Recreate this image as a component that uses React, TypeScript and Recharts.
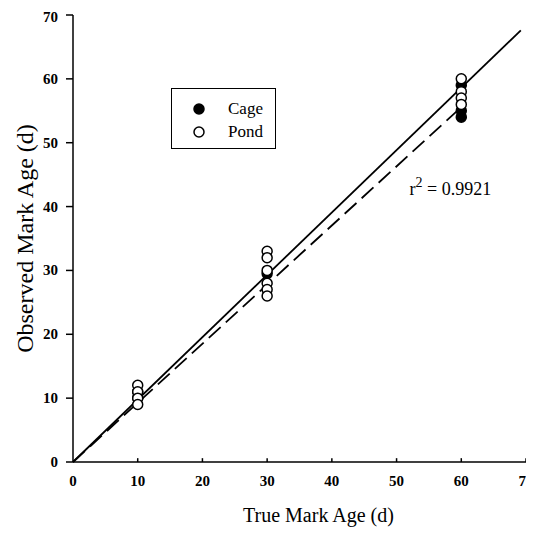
import React from "react";
import { ScatterChart, Scatter, XAxis, YAxis, ReferenceLine, ReferenceDot } from "recharts";

const trueAgeTicks = [0, 10, 20, 30, 40, 50, 60, 70];
const observedTicks = [0, 10, 20, 30, 40, 50, 60, 70];

const cageTrue = [10, 10, 30, 60, 60, 60];
const cageObserved = [11, 10, 29.5, 59, 55, 54];

const pondTrue = [10, 10, 10, 10, 30, 30, 30, 30, 30, 30, 60, 60, 60, 60];
const pondObserved = [12, 11, 10, 9, 33, 32, 30, 28, 27, 26, 60, 58, 57, 56];

const solidLine = [
  { x: 0, y: 0 },
  { x: 69.2, y: 67.6 },
];
const dashedLine = [
  { x: 0, y: 0 },
  { x: 59.5, y: 55.1 },
];

const rSquared = "0.9921";
const seriesNames = ["Cage", "Pond"];

const cageData = cageTrue.map((x, i) => ({ x, y: cageObserved[i] }));
const pondData = pondTrue.map((x, i) => ({ x, y: pondObserved[i] }));

const FONT = "'Liberation Serif', 'Times New Roman', serif";

const XTick = (props: any) => {
  const { x, y, payload } = props;
  return (
    <text x={x} y={y + 18} textAnchor="middle" fontFamily={FONT} fontSize={15} fontWeight={700} fill="#000">
      {payload.value}
    </text>
  );
};

const YTick = (props: any) => {
  const { x, y, payload } = props;
  return (
    <text x={x} y={y + 5} textAnchor="end" fontFamily={FONT} fontSize={15} fontWeight={700} fill="#000">
      {payload.value}
    </text>
  );
};

const LegendBox = () => (
  <div
    style={{
      position: "absolute",
      left: 163,
      top: 80,
      border: "1.5px solid #000",
      width: 105,
      height: 61,
      boxSizing: "border-box",
      fontFamily: FONT,
      background: "#fff",
    }}
  >
    <svg width={102} height={58}>
      <circle cx={27} cy={20} r={5} fill="#000" stroke="#000" strokeWidth={1.5} />
      <text x={56} y={25} fontSize={17} fontFamily={FONT} fill="#000">{seriesNames[0]}</text>
      <circle cx={27} cy={43} r={5} fill="#fff" stroke="#000" strokeWidth={1.5} />
      <text x={56} y={48} fontSize={17} fontFamily={FONT} fill="#000">{seriesNames[1]}</text>
    </svg>
  </div>
);

const RLabel = (props: any) => {
  const { viewBox } = props;
  const x = viewBox.x;
  const y = viewBox.y;
  return (
    <text x={x} y={y} fontFamily={FONT} fontSize={18} fill="#000">
      <tspan>r</tspan>
      <tspan dy={-8} fontSize={14}>2</tspan>
      <tspan dy={8}>{" = " + rSquared}</tspan>
    </text>
  );
};

export default function App() {
  return (
    <div style={{ width: 526, height: 527, position: "relative" }}>
      <ScatterChart width={526} height={527} margin={{ top: 7, right: 8, bottom: 13, left: 5 }}>
        <XAxis
          type="number"
          dataKey="x"
          domain={[0, 70]}
          ticks={trueAgeTicks}
          allowDataOverflow
          height={60}
          axisLine={{ stroke: "#000", strokeWidth: 1.5 }}
          tickLine={false}
          tickMargin={0}
          tick={<XTick />}
          label={{
            value: "True Mark Age (d)",
            position: "insideBottom",
            offset: 0,
            style: { fontFamily: FONT, fontSize: 20, fill: "#000", textAnchor: "middle" },
            dx: 19,
          }}
        />
        <YAxis
          type="number"
          dataKey="y"
          domain={[0, 70]}
          ticks={observedTicks}
          allowDataOverflow
          width={60}
          axisLine={{ stroke: "#000", strokeWidth: 1.5 }}
          tickLine={{ stroke: "#000", strokeWidth: 1.5 }}
          tickSize={7}
          tickMargin={8}
          tick={<YTick />}
          label={{
            value: "Observed Mark Age (d)",
            angle: -90,
            position: "insideLeft",
            offset: 11,
            style: { fontFamily: FONT, fontSize: 24, fill: "#000", textAnchor: "middle" },
          }}
        />
        {trueAgeTicks.slice(1).map((t) => (
          <ReferenceLine
            key={"xt" + t}
            segment={[
              { x: t, y: 0 },
              { x: t, y: 0.6 },
            ]}
            stroke="#000"
            strokeWidth={1.5}
            ifOverflow="visible"
          />
        ))}
        <ReferenceLine segment={solidLine} stroke="#000" strokeWidth={1.8} ifOverflow="visible" />
        <ReferenceLine segment={dashedLine} stroke="#000" strokeWidth={1.8} strokeDasharray="16 7" ifOverflow="visible" />
        <Scatter
          name={seriesNames[0]}
          data={cageData}
          fill="#000"
          stroke="#000"
          strokeWidth={1.5}
          shape={(p: any) => <circle cx={p.cx} cy={p.cy} r={5} fill="#000" stroke="#000" strokeWidth={1.5} />}
          isAnimationActive={false}
        />
        <Scatter
          name={seriesNames[1]}
          data={pondData}
          fill="#fff"
          stroke="#000"
          strokeWidth={1.5}
          shape={(p: any) => <circle cx={p.cx} cy={p.cy} r={5} fill="#fff" stroke="#000" strokeWidth={1.5} />}
          isAnimationActive={false}
        />
        <ReferenceDot x={52} y={41.8} r={0} stroke="none" ifOverflow="visible" label={<RLabel />} />
      </ScatterChart>
      <LegendBox />
    </div>
  );
}
